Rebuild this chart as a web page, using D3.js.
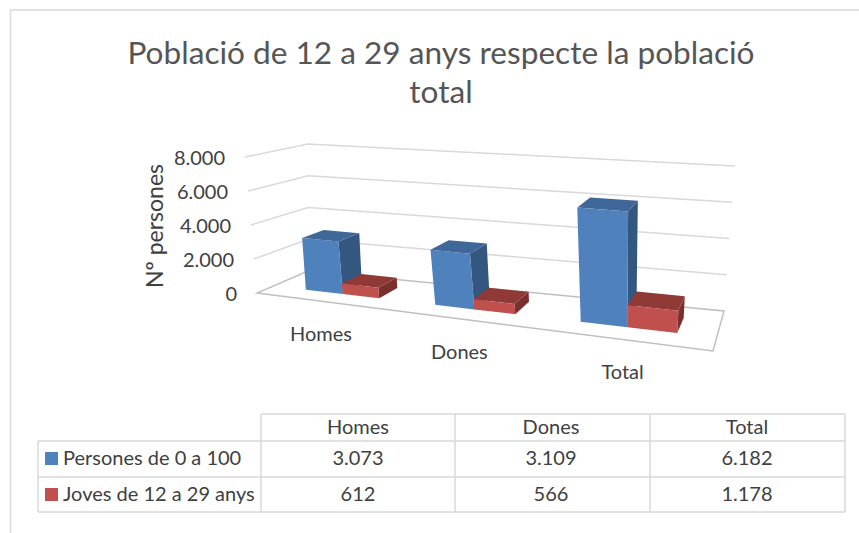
<!DOCTYPE html>
<html lang="ca">
<head>
<meta charset="utf-8">
<title>Població de 12 a 29 anys</title>
<script src="https://cdn.jsdelivr.net/npm/d3@7"></script>
<style>
  html, body { margin: 0; background: #fff; }
  text { font-family: Lato, "Open Sans", sans-serif; fill: #404040; }
</style>
</head>
<body>
<svg id="chart" width="859" height="533"></svg>
<script>
var categories = ['Homes', 'Dones', 'Total'];
var seriesNames = ['Persones de 0 a 100', 'Joves de 12 a 29 anys'];
var personesValues = [3073, 3109, 6182];
var jovesValues = [612, 566, 1178];
var yTicks = [0, 2000, 4000, 6000, 8000];
var titleLines = ['Població de 12 a 29 anys respecte la població', 'total'];

var seriesValues = [personesValues, jovesValues];
var frontColors = ['#4f81bd', '#c0504d'];
var topColors = ['#3f6797', '#903a38'];
var sideColors = ['#345780', '#7a2f2d'];

var svg = d3.select('#chart');
var fmt = d3.formatLocale({decimal: ',', thousands: '.', grouping: [3], currency: ['', '']}).format(',d');

// the 3d box in pixels: corners of the floor and of the top plane (front left, front right, back right, back left)
var floorCorners = [[257, 293], [713, 351], [724, 311], [308, 271]];
var topCorners = [[245, 157], [729, 194], [735, 166], [308, 144]];

// perspective map of the unit square onto four corners
function quadMap(q) {
  var x0 = q[0][0], y0 = q[0][1], x1 = q[1][0], y1 = q[1][1];
  var x2 = q[2][0], y2 = q[2][1], x3 = q[3][0], y3 = q[3][1];
  var dx1 = x1 - x2, dx2 = x3 - x2, sx = x0 - x1 + x2 - x3;
  var dy1 = y1 - y2, dy2 = y3 - y2, sy = y0 - y1 + y2 - y3;
  var det = dx1 * dy2 - dx2 * dy1;
  var g = (sx * dy2 - dx2 * sy) / det;
  var h = (dx1 * sy - sx * dy1) / det;
  var a = x1 - x0 + g * x1, b = x3 - x0 + h * x3;
  var d = y1 - y0 + g * y1, e = y3 - y0 + h * y3;
  return function(u, v) {
    var w = g * u + h * v + 1;
    return [(a * u + b * v + x0) / w, (d * u + e * v + y0) / w];
  };
}
var floorMap = quadMap(floorCorners);
var topMap = quadMap(topCorners);

// the corners alone give too much foreshortening along the categories, this evens it out
var uWarp = d3.scalePow().exponent(0.85).domain([0, 1]).range([0, 1]);

function project(u, v, z) {
  var p = floorMap(uWarp(u), v), q = topMap(uWarp(u), v);
  return [p[0] + (q[0] - p[0]) * z, p[1] + (q[1] - p[1]) * z];
}

var xBand = d3.scaleBand().domain(categories).range([0, 1]);
var xInner = d3.scaleBand().domain([0, 1]).range([0, xBand.bandwidth()]).paddingInner(0).paddingOuter(0.75);
var xLabel = d3.scalePoint().domain(categories).range([0.15, 0.838]);
var depth = d3.scaleLinear().domain([0, 1]).range([0.3, 0.7]);
var yScale = d3.scaleLinear().domain([0, 8000]).range([0, 1]);

var line = d3.line();

// frame
svg.append('path').attr('d', 'M10.5,533V10H859').attr('fill', 'none').attr('stroke', '#d9d9d9').attr('stroke-width', 1.5);

// title
svg.selectAll('text.title').data(titleLines).enter().append('text')
  .attr('class', 'title')
  .attr('x', 441)
  .attr('y', function(d, i) { return 64 + i * 38.5; })
  .attr('text-anchor', 'middle')
  .style('font-size', '31.6px')
  .style('fill', '#555')
  .text(function(d) { return d; });

// floor
svg.append('path')
  .attr('d', line([project(0, 0, 0), project(1, 0, 0), project(1, 1, 0), project(0, 1, 0)]) + 'Z')
  .attr('fill', '#fff').attr('stroke', '#bfbfbf').attr('stroke-width', 1.5);

// gridlines on the two walls
svg.selectAll('path.grid').data(yTicks.slice(1)).enter().append('path')
  .attr('class', 'grid')
  .attr('fill', 'none').attr('stroke', '#d9d9d9').attr('stroke-width', 1.5)
  .attr('d', function(d) {
    var z = yScale(d);
    return line([project(0, 0, z), project(0, 1, z), project(1, 1, z)]);
  });

// bars, one group per series per category
var bars = [];
categories.forEach(function(cat, c) {
  seriesValues.forEach(function(vals, s) {
    bars.push({cat: cat, s: s, value: vals[c]});
  });
});

var barG = svg.selectAll('g.bar').data(bars).enter().append('g').attr('class', 'bar');

function face(d, corners) {
  var u0 = xBand(d.cat) + xInner(d.s), u1 = u0 + xInner.bandwidth();
  var v0 = depth(0), v1 = depth(1), z = yScale(d.value);
  return line(corners(u0, u1, v0, v1, z).map(function(p) { return project(p[0], p[1], p[2]); })) + 'Z';
}
barG.append('path').attr('fill', function(d) { return sideColors[d.s]; })
  .attr('d', function(d) {
    return face(d, function(u0, u1, v0, v1, z) { return [[u1, v0, 0], [u1, v1, 0], [u1, v1, z], [u1, v0, z]]; });
  });
barG.append('path').attr('fill', function(d) { return topColors[d.s]; })
  .attr('d', function(d) {
    return face(d, function(u0, u1, v0, v1, z) { return [[u0, v0, z], [u1, v0, z], [u1, v1, z], [u0, v1, z]]; });
  });
barG.append('path').attr('fill', function(d) { return frontColors[d.s]; })
  .attr('d', function(d) {
    return face(d, function(u0, u1, v0, v1, z) { return [[u0, v0, 0], [u1, v0, 0], [u1, v0, z], [u0, v0, z]]; });
  });

// value axis labels sit along the front left edge
svg.selectAll('text.ytick').data(yTicks).enter().append('text')
  .attr('class', 'ytick')
  .attr('text-anchor', 'end')
  .attr('x', function(d) { return project(0, 0, yScale(d))[0] - 20; })
  .attr('y', function(d) { return project(0, 0, yScale(d))[1] + 8; })
  .style('font-size', '20px')
  .text(fmt);

svg.append('text')
  .attr('transform', 'translate(163,226) rotate(-90)')
  .attr('text-anchor', 'middle')
  .style('font-size', '23px')
  .text('Nº persones');

// category labels under the front edge
svg.selectAll('text.cat').data(categories).enter().append('text')
  .attr('class', 'cat')
  .attr('text-anchor', 'middle')
  .attr('x', function(d) { return project(xLabel(d), 0, 0)[0]; })
  .attr('y', function(d) { return project(xLabel(d), 0, 0)[1] + 40; })
  .style('font-size', '20px')
  .text(function(d) { return d; });

// data table with legend keys
var colEdges = [261, 455, 650, 845];
var colMid = d3.scaleOrdinal().domain(categories).range([358, 551, 747]);
var rowY = d3.scaleOrdinal().domain(['head', 0, 1]).range([414, 441, 477]);
var tableBottom = 512;

var table = svg.append('g').attr('stroke', '#d9d9d9').attr('stroke-width', 1.5);
table.selectAll('line.v').data(colEdges).enter().append('line')
  .attr('class', 'v')
  .attr('x1', function(d) { return d; })
  .attr('x2', function(d) { return d; })
  .attr('y1', 414).attr('y2', tableBottom);
table.append('line').attr('x1', 38).attr('x2', 38).attr('y1', 441).attr('y2', tableBottom);
table.append('line').attr('x1', 261).attr('x2', 845).attr('y1', 414).attr('y2', 414);
table.selectAll('line.h').data([441, 477, tableBottom]).enter().append('line')
  .attr('class', 'h')
  .attr('x1', 38).attr('x2', 845)
  .attr('y1', function(d) { return d; }).attr('y2', function(d) { return d; });

svg.selectAll('text.head').data(categories).enter().append('text')
  .attr('class', 'head')
  .attr('text-anchor', 'middle')
  .attr('x', function(d) { return colMid(d); })
  .attr('y', rowY('head') + 20)
  .style('font-size', '20px')
  .text(function(d) { return d; });

seriesNames.forEach(function(name, s) {
  svg.append('rect')
    .attr('x', 45).attr('y', rowY(s) + 11)
    .attr('width', 13).attr('height', 13)
    .attr('fill', frontColors[s]);
  svg.append('text')
    .attr('x', 63).attr('y', rowY(s) + 24)
    .style('font-size', '20px')
    .text(name);
  svg.selectAll('text.val' + s).data(seriesValues[s]).enter().append('text')
    .attr('class', 'val' + s)
    .attr('text-anchor', 'middle')
    .attr('x', function(d, i) { return colMid(categories[i]); })
    .attr('y', rowY(s) + 24)
    .style('font-size', '20px')
    .text(fmt);
});
</script>
</body>
</html>
